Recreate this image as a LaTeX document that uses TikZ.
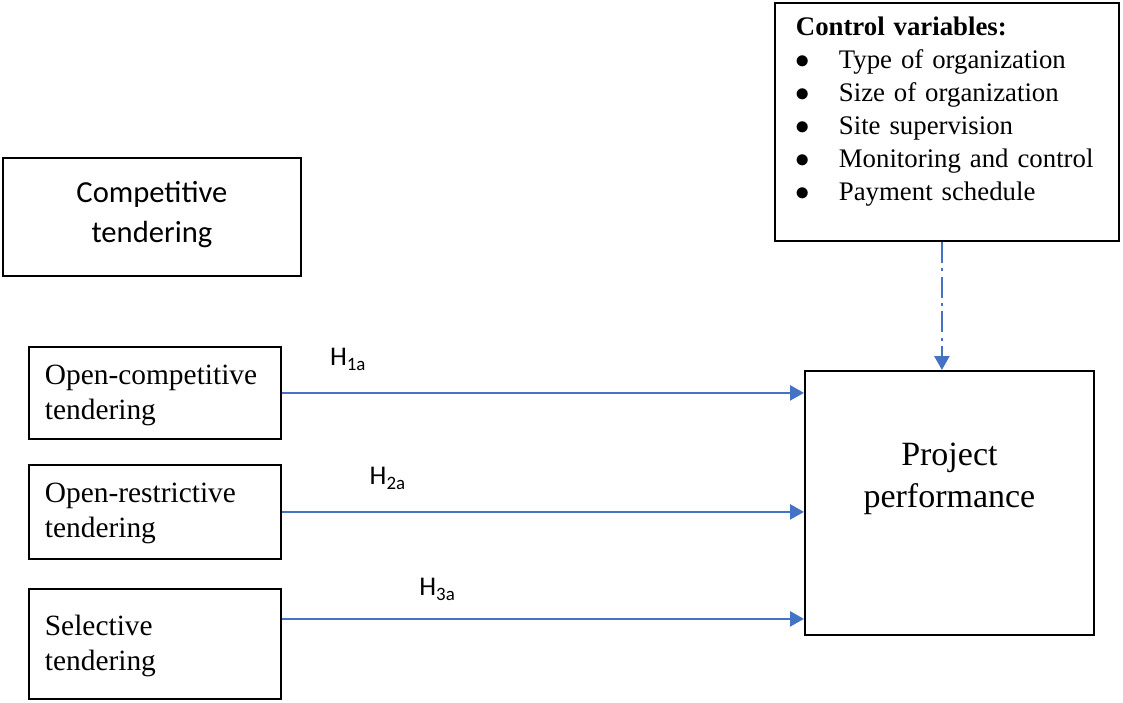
\documentclass[tikz,border=0pt]{standalone}
\usepackage{fontspec}
\setmainfont{Liberation Serif}
\newfontfamily\calibri{Carlito}
\usetikzlibrary{arrows.meta,positioning}
\definecolor{Link}{HTML}{4472C4}
\tikzset{
 box/.style={draw=black,line width=0.9pt,inner ysep=0pt,anchor=north west},
 indep/.style={box,align=left,text width=110pt,inner xsep=8pt,
   font=\fontsize{14.7}{17.5}\selectfont},
 head/.style={box,align=center,text width=140pt,inner xsep=4.5pt,
   font=\calibri\fontsize{15.3}{20}\selectfont},
 ctrl/.style={box,align=left,text width=151pt,inner xsep=10.5pt,
   font=\fontsize{13.4}{16.5}\selectfont},
 outcome/.style={box,align=center,text width=140pt,inner xsep=2.25pt,
   font=\fontsize{17}{21}\selectfont},
 arr/.style={-{Triangle[length=7pt,width=7.5pt]},line width=1.25pt,draw=Link},
 ctrlarr/.style={arr,dash pattern=on 10.5pt off 2.8pt on 1.3pt off 2.8pt},
 hyp/.style={font=\calibri\fontsize{13.5}{15}\selectfont,anchor=base west,inner sep=0pt}
}
\newcommand{\itm}{\makebox[21.5pt][l]{$\bullet$}}

\begin{document}
\begin{tikzpicture}[x=0.5pt,y=-0.5pt]
\useasboundingbox (0,0) rectangle (1123,702);
\node[head,text height=22.5pt,text depth=36.5pt] (ct) at (2,157) {Competitive\\tendering};
\node[indep,text height=19pt,text depth=27pt] (oc) at (28,346) {Open-competitive\\tendering};
\node[indep,text height=19pt,text depth=28pt] (or) at (28,464) {Open-restrictive\\tendering};
\node[indep,text height=23.5pt,text depth=31.5pt] (sel) at (28,588) {Selective\\tendering};
\node[outcome,text height=47.5pt,text depth=84.5pt] (pp) at (804,370) {Project\\performance};
\node[ctrl,text height=16.5pt,text depth=102.5pt] (cv) at (774,2) {\textbf{Control variables:}\\
 \itm Type of organization\\
 \itm Size of organization\\
 \itm Site supervision\\
 \itm Monitoring and control\\
 \itm Payment schedule};
% hypotheses
\draw[arr] (oc.east) -- (oc.east -| pp.west) node[hyp,pos=0.09,yshift=13.5pt] (h1) {H\textsubscript{1a}};
\draw[arr] (or.east) -- (or.east -| pp.west) node[hyp,pos=0.166,yshift=13.5pt] (h2) {H\textsubscript{2a}};
\draw[arr] ([yshift=12.5pt]sel.east) -- ([yshift=12.5pt]sel.east -| pp.west) node[hyp,pos=0.261,yshift=11.5pt] (h3) {H\textsubscript{3a}};
% control
\draw[ctrlarr] ([xshift=-2.5pt]cv.south) -- ([xshift=-2.5pt]cv.south |- pp.north);
\end{tikzpicture}
\end{document}
